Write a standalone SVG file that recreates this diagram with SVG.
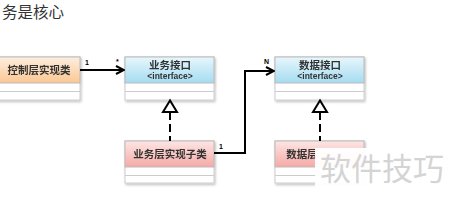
<svg xmlns="http://www.w3.org/2000/svg" width="450" height="202" viewBox="0 0 450 202">
<defs>
<linearGradient id="gO" x1="0" y1="0" x2="0" y2="1"><stop offset="0" stop-color="#fdeee0"/><stop offset="1" stop-color="#fbc792"/></linearGradient>
<linearGradient id="gB" x1="0" y1="0" x2="0" y2="1"><stop offset="0" stop-color="#e8f6fc"/><stop offset="1" stop-color="#a4dcf1"/></linearGradient>
<linearGradient id="gR" x1="0" y1="0" x2="0" y2="1"><stop offset="0" stop-color="#fde6e4"/><stop offset="1" stop-color="#f5a9a6"/></linearGradient>
<filter id="sh" x="-10%" y="-10%" width="130%" height="140%"><feDropShadow dx="1" dy="1.5" stdDeviation="1" flood-color="#000" flood-opacity="0.25"/></filter>
<marker id="arr" markerWidth="10" markerHeight="10" refX="9" refY="5" orient="auto" markerUnits="userSpaceOnUse"><path d="M1,1 L9,5 L1,9" fill="none" stroke="#000" stroke-width="2"/></marker>
</defs>
<style>
.box{stroke:#bbb;stroke-width:1}
.row{fill:#fff;stroke:#ccc;stroke-width:1}
.t{font-family:"Noto Sans CJK SC","Liberation Sans",sans-serif;font-size:10.5px;font-weight:bold;fill:#333;text-anchor:middle}
.i{font-family:"Liberation Sans",sans-serif;font-size:8.5px;font-weight:bold;fill:#333;text-anchor:middle}
.c{fill:none;stroke:#000;stroke-width:2}
.lb{font-family:"Liberation Sans",sans-serif;font-size:7px;font-weight:bold;fill:#000}
</style>
<text x="2" y="18" font-family="Noto Sans CJK SC,sans-serif" font-size="15.5" fill="#333">务是核心</text>
<g id="ctrl" filter="url(#sh)">
<rect x="-2" y="57" width="82" height="43" class="row"/>
<rect x="-2" y="57" width="82" height="26" fill="url(#gO)" class="box"/>
<line x1="-2" y1="91.5" x2="80" y2="91.5" stroke="#ccc"/>
<text x="39" y="74" class="t">控制层实现类</text>
</g>
<g id="bizif" filter="url(#sh)">
<rect x="125" y="57" width="89" height="43" class="row"/>
<rect x="125" y="57" width="89" height="26" fill="url(#gB)" class="box"/>
<line x1="125" y1="91.5" x2="214" y2="91.5" stroke="#ccc"/>
<text x="170" y="69" class="t">业务接口</text>
<text x="170" y="79" class="i">&lt;interface&gt;</text>
</g>
<g id="dataif" filter="url(#sh)">
<rect x="275" y="57" width="89" height="43" class="row"/>
<rect x="275" y="57" width="89" height="26" fill="url(#gB)" class="box"/>
<line x1="275" y1="91.5" x2="364" y2="91.5" stroke="#ccc"/>
<text x="320" y="69" class="t">数据接口</text>
<text x="320" y="79" class="i">&lt;interface&gt;</text>
</g>
<g id="bizimpl" filter="url(#sh)">
<rect x="125" y="141" width="89" height="42" class="row"/>
<rect x="125" y="141" width="89" height="26" fill="url(#gR)" class="box"/>
<line x1="125" y1="175.5" x2="214" y2="175.5" stroke="#ccc"/>
<text x="170" y="158" class="t">业务层实现子类</text>
</g>
<g id="dataimpl" filter="url(#sh)">
<rect x="275" y="141" width="89" height="42" class="row"/>
<rect x="275" y="141" width="89" height="26" fill="url(#gR)" class="box"/>
<line x1="275" y1="175.5" x2="364" y2="175.5" stroke="#ccc"/>
<text x="302" y="158" class="t">数据层</text>
</g>
<g id="connectors">
<line x1="80" y1="70" x2="124" y2="70" class="c" marker-end="url(#arr)"/>
<text x="85" y="65" class="lb">1</text>
<text x="116" y="64" class="lb">*</text>
<polyline points="214,153 245,153 245,71 274,71" class="c" marker-end="url(#arr)"/>
<text x="219" y="149" class="lb">1</text>
<text x="264" y="64" class="lb">N</text>
<line x1="170" y1="112" x2="170" y2="141" class="c" stroke-dasharray="8,4"/>
<polygon points="170,100.5 163,112 177,112" fill="#fff" stroke="#000" stroke-width="2"/>
<line x1="320" y1="112" x2="320" y2="141" class="c" stroke-dasharray="8,4"/>
<polygon points="320,100.5 313,112 327,112" fill="#fff" stroke="#000" stroke-width="2"/>
</g>
<rect x="315" y="148" width="135" height="54" fill="#fff" opacity="0.95"/>
<text x="320" y="180" font-family="Noto Sans CJK SC,sans-serif" font-size="31" fill="#d4d4d4">软件技巧</text>
</svg>
